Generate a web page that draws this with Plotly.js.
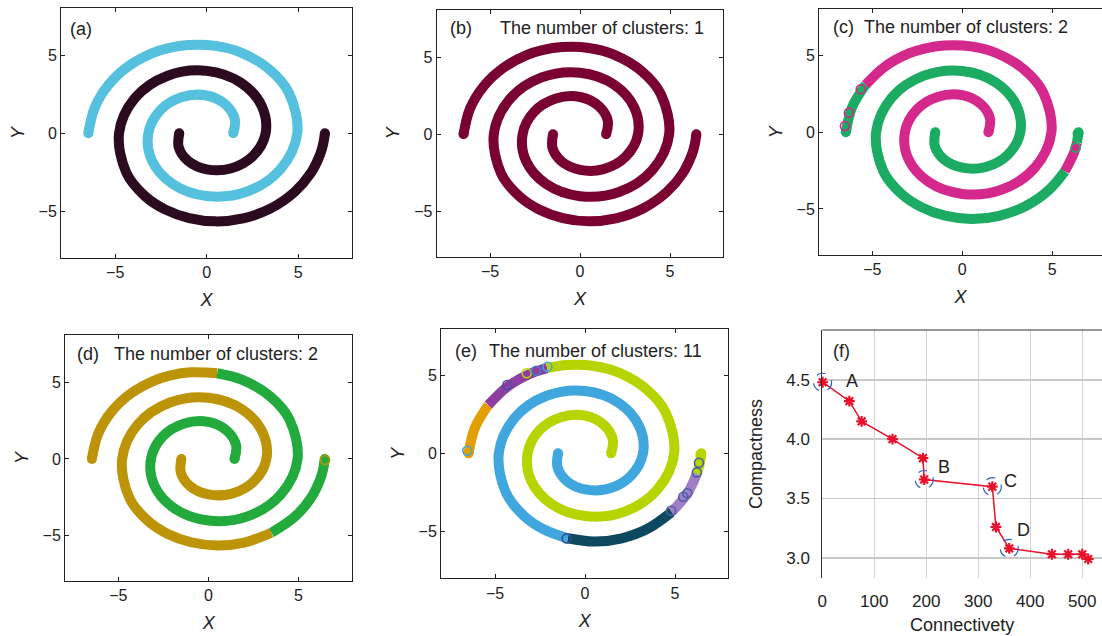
<!DOCTYPE html>
<html><head><meta charset="utf-8">
<script src="https://cdn.plot.ly/plotly-3.0.1.min.js"></script>
<style>html,body{margin:0;padding:0;background:#fff}#chart{width:1102px;height:636px}</style>
</head><body><div id="chart"></div>
<script>
// ---- Two-spiral data set, centre-lines ----
// Arm 1: starts at the far left (x≈-6.5) and winds clockwise to the centre
const arm1X = [-6.47,-6.12,-5.37,-4.29,-2.97,-2.10,-1.00,0.49,1.88,3.43,4.49,4.95,4.02,2.17,0.00,-1.87,-3.00,-3.19,-2.54,-1.34,0.00,1.05,1.54,1.45];
const arm1Y = [0.00,1.64,3.10,4.29,5.14,5.46,5.66,5.60,5.17,4.09,2.60,0.00,-2.32,-3.75,-4.02,-3.24,-1.73,0.00,1.47,2.32,2.42,1.82,0.89,0.00];
// Arm 2: starts at the far right (x≈6.5) and winds clockwise to the centre
const arm2X = [6.46,6.37,6.21,5.70,4.81,3.50,1.99,0.49,-0.96,-2.28,-3.38,-4.39,-4.79,-3.92,-2.13,0.00,1.87,3.01,3.22,2.53,1.31,0.00,-1.02,-1.53,-1.50];
const arm2Y = [0.00,-0.67,-1.32,-2.54,-3.76,-4.82,-5.46,-5.65,-5.44,-4.88,-4.02,-2.53,0.00,2.26,3.69,4.00,3.24,1.74,0.00,-1.46,-2.26,-2.31,-1.77,-0.89,0.00];

// ---- cluster labels per point (label i colours the stretch from point i to i+1) ----
const fill = (n, v) => Array(n).fill(v);
const labA1 = fill(24, 0),                         labA2 = fill(25, 1);
const labB1 = fill(24, 0),                         labB2 = fill(25, 0);
const labC1 = [1,1].concat(fill(22, 0)),           labC2 = [1,0,0].concat(fill(22, 1));
const labD1 = fill(7, 0).concat(fill(17, 1)),      labD2 = fill(5, 1).concat(fill(20, 0));
const labE1 = [0,0,1,1,1].concat(fill(19, 2)),     labE2 = [2,2,3,3,4,4,4,4].concat(fill(17, 5));

const colorsA = ['#56c1de', '#2c0b20'];
const colorsB = ['#7a0232'];
const colorsC = ['#d4288c', '#1bab62'];
const colorsD = ['#bd9408', '#22ab3c'];
const colorsE = ['#e2a000', '#8e3e9f', '#b6d400', '#a07fc4', '#0c4960', '#3fa6de'];

// stray open circles visible in the picture (x, y, colour index)
const ringsC_x = [-6.52,-6.30,-5.64, 6.42, 6.30], ringsC_y = [0.41,1.28,2.81,-0.08,-1.00], ringsC_c = [0,0,0,1,1];
const ringsD_x = [6.48], ringsD_y = [-0.07], ringsD_c = [0];
const ringsE_x = [-6.54,-4.32,-3.24,-2.72,-2.09, 6.42, 6.33, 6.21, 5.68, 5.46, 4.78,-1.02];
const ringsE_y = [0.17, 4.38, 5.13, 5.29, 5.55,-0.08,-0.60,-1.22,-2.56,-2.78,-3.68,-5.45];
const ringsE_c = ['#3fa6de','#4a4fa8','#b6d400','#3f7fcf','#3fa6de','#b6d400','#4a5fa8','#4a5fa8','#4a5fa8','#4a5fa8','#4a5fa8','#2d4f9a'];

// ---- panel (f) ----
const connectivity = [0.6, 52, 75.6, 135, 193.6, 196, 327, 334, 359.6, 441.6, 473, 500, 511.5];
const compactness  = [4.48, 4.32, 4.15, 4.00, 3.84, 3.66, 3.60, 3.26, 3.08, 3.03, 3.03, 3.03, 2.99];
const markedIdx   = [0, 5, 6, 8];
const markedNames = ['A', 'B', 'C', 'D'];
const markedShift = [[29, 1], [20, 13], [18, 6], [14, 18]];

const FONT = 'Liberation Sans, Arial, Helvetica, sans-serif';
const TXT = '#222';
const traces = [];

function runs(lbl) {
  const out = []; let s = 0;
  for (let i = 1; i <= lbl.length; i++) {
    if (i === lbl.length || lbl[i] !== lbl[s]) {
      out.push({ lab: lbl[s], from: s, to: Math.min(i, lbl.length - 1) });
      s = i;
    }
  }
  return out;
}
function addArm(xs, ys, lbl, colors, xa, ya) {
  runs(lbl).forEach(r => {
    if (r.to <= r.from) return;
    const x = xs.slice(r.from, r.to + 1), y = ys.slice(r.from, r.to + 1);
    const sizes = x.map((_, k) => ((r.from + k) === 0 || (r.from + k) === xs.length - 1) ? 10 : 0);
    traces.push({
      type: 'scatter', mode: 'lines+markers', x, y, xaxis: xa, yaxis: ya,
      line: { shape: 'spline', smoothing: 1, width: 10, color: colors[r.lab] },
      marker: { size: sizes, color: colors[r.lab], opacity: 1, line: { width: 0 } },
      hoverinfo: 'skip', showlegend: false
    });
  });
}
function addRings(xs, ys, cols, xa, ya) {
  traces.push({
    type: 'scatter', mode: 'markers', x: xs, y: ys, xaxis: xa, yaxis: ya,
    marker: { symbol: 'circle-open', size: 9, color: cols, opacity: 1, line: { width: 1.6, color: cols } },
    hoverinfo: 'skip', showlegend: false
  });
}

addArm(arm1X, arm1Y, labA1, colorsA, 'x', 'y');   addArm(arm2X, arm2Y, labA2, colorsA, 'x', 'y');
addArm(arm1X, arm1Y, labB1, colorsB, 'x2', 'y2'); addArm(arm2X, arm2Y, labB2, colorsB, 'x2', 'y2');
addArm(arm1X, arm1Y, labC1, colorsC, 'x3', 'y3'); addArm(arm2X, arm2Y, labC2, colorsC, 'x3', 'y3');
addRings(ringsC_x, ringsC_y, ringsC_c.map(i => colorsC[i]), 'x3', 'y3');
addArm(arm1X, arm1Y, labD1, colorsD, 'x4', 'y4'); addArm(arm2X, arm2Y, labD2, colorsD, 'x4', 'y4');
addRings(ringsD_x, ringsD_y, ringsD_c.map(i => colorsD[i]), 'x4', 'y4');
addArm(arm1X, arm1Y, labE1, colorsE, 'x5', 'y5'); addArm(arm2X, arm2Y, labE2, colorsE, 'x5', 'y5');
addRings(ringsE_x, ringsE_y, ringsE_c, 'x5', 'y5');

traces.push({
  type: 'scatter', mode: 'lines+markers', x: connectivity, y: compactness, xaxis: 'x6', yaxis: 'y6',
  cliponaxis: false,
  line: { color: '#e8102a', width: 1.5 },
  marker: { symbol: 'asterisk-open', size: 9, color: '#e8102a', line: { color: '#e8102a', width: 2.2 } },
  hoverinfo: 'skip', showlegend: false
});

const spiralTicks = [-5, 0, 5];
function sx(domain, range, anchor) {
  return {
    domain, range, anchor, showline: true, linecolor: '#222', linewidth: 1, mirror: 'ticks',
    ticks: 'inside', ticklen: 4, tickcolor: '#222', tickvals: spiralTicks,
    tickfont: { family: FONT, size: 16, color: TXT }, zeroline: false, showgrid: false,
    title: { text: '<i>X</i>', font: { family: FONT, size: 18, color: TXT }, standoff: 13 }, fixedrange: true
  };
}
function sy(domain, range, anchor, mirror) {
  return {
    domain, range, anchor, showline: true, linecolor: '#222', linewidth: 1, mirror: mirror,
    ticks: 'inside', ticklen: 4, tickcolor: '#222', tickvals: spiralTicks,
    tickfont: { family: FONT, size: 16, color: TXT }, zeroline: false, showgrid: false,
    title: { text: '<i>Y</i>', font: { family: FONT, size: 18, color: TXT }, standoff: 9 }, fixedrange: true
  };
}

const xDom6 = [0.7462, 1.0], xRng6 = [0, 538];
const yDom6 = [0.0912, 0.4811], yRng6 = [2.83, 4.92];
// map a panel (f) value onto paper coordinates so the dashed rings are not clipped at the axis
const px6 = v => xDom6[0] + (v - xRng6[0]) / (xRng6[1] - xRng6[0]) * (xDom6[1] - xDom6[0]);
const py6 = v => yDom6[0] + (v - yRng6[0]) / (yRng6[1] - yRng6[0]) * (yDom6[1] - yDom6[0]);

const layout = {
  width: 1102, height: 636, margin: { l: 0, r: 0, t: 0, b: 0 },
  paper_bgcolor: '#fff', plot_bgcolor: '#fff', showlegend: false,
  font: { family: FONT, color: TXT },
  xaxis:  sx([0.0554, 0.3194], [-7.96, 7.94], 'y'),
  yaxis:  sy([0.5943, 0.9874], [-8.0, 8.03], 'x', 'ticks'),
  xaxis2: sx([0.3963, 0.6564], [-7.96, 7.96], 'y2'),
  yaxis2: sy([0.5964, 0.9843], [-7.95, 8.07], 'x2', 'ticks'),
  xaxis3: sx([0.7432, 1.0], [-7.96, 7.76], 'y3'),
  yaxis3: sy([0.5991, 0.9854], [-8.0, 8.02], 'x3', false),
  xaxis4: sx([0.0590, 0.3197], [-7.96, 7.99], 'y4'),
  yaxis4: sy([0.0865, 0.4733], [-7.97, 8.1], 'x4', 'ticks'),
  xaxis5: sx([0.4002, 0.6609], [-8.0, 7.96], 'y5'),
  yaxis5: sy([0.0907, 0.4822], [-8.01, 7.95], 'x5', 'ticks'),
  xaxis6: {
    domain: xDom6, range: xRng6, anchor: 'y6', showline: false, zeroline: false,
    showgrid: true, gridcolor: '#d2d2d2', gridwidth: 1, tickvals: [0, 100, 200, 300, 400, 500],
    ticks: 'outside', ticklen: 8, tickcolor: 'rgba(0,0,0,0)',
    tickfont: { family: FONT, size: 17, color: TXT },
    title: { text: 'Connectivety', font: { family: FONT, size: 18, color: TXT }, standoff: 8 }, fixedrange: true
  },
  yaxis6: {
    domain: yDom6, range: yRng6, anchor: 'x6', showline: true, linecolor: '#333',
    linewidth: 1, mirror: false, zeroline: false, showgrid: true, gridcolor: '#c8c8c8', gridwidth: 1.5,
    tickvals: [3.0, 3.5, 4.0, 4.5], tickformat: '.1f',
    ticks: 'outside', ticklen: 8, tickcolor: 'rgba(0,0,0,0)',
    tickfont: { family: FONT, size: 17, color: TXT },
    title: { text: 'Compactness', font: { family: FONT, size: 18, color: TXT }, standoff: 18 }, fixedrange: true
  },
  shapes: [
    { type: 'line', xref: 'x6 domain', yref: 'y6 domain', x0: 0, x1: 1, y0: 1, y1: 1, line: { color: '#333', width: 1 } }
  ].concat(markedIdx.map(i => ({
    type: 'circle', xref: 'paper', yref: 'paper', xsizemode: 'pixel', ysizemode: 'pixel',
    xanchor: px6(connectivity[i]), yanchor: py6(compactness[i]), x0: -9, x1: 9, y0: -9, y1: 9,
    line: { color: '#2f5fc0', width: 1.2, dash: 'dash' }
  }))),
  annotations: []
};

function label(xref, yref, x, y, text) {
  layout.annotations.push({ xref, yref, x, y, xanchor: 'left', yanchor: 'middle', text, showarrow: false,
    font: { family: FONT, size: 18, color: TXT } });
}
label('x domain',  'y domain',  0.024, 0.918, '(a)');
label('x2 domain', 'y2 domain', 0.038, 0.929, '(b)');
label('x2 domain', 'y2 domain', 0.215, 0.929, 'The number of clusters: 1');
label('x3 domain', 'y3 domain', 0.041, 0.926, '(c)');
label('x3 domain', 'y3 domain', 0.151, 0.926, 'The number of clusters: 2');
label('x4 domain', 'y4 domain', 0.035, 0.923, '(d)');
label('x4 domain', 'y4 domain', 0.1625, 0.923, 'The number of clusters: 2');
label('x5 domain', 'y5 domain', 0.041, 0.913, '(e)');
label('x5 domain', 'y5 domain', 0.161, 0.913, 'The number of clusters: 11');
label('x6 domain', 'y6 domain', 0.030, 0.915, '(f)');
markedIdx.forEach((i, k) => {
  layout.annotations.push({ xref: 'x6', yref: 'y6', x: connectivity[i], y: compactness[i],
    xanchor: 'center', yanchor: 'middle', xshift: markedShift[k][0], yshift: markedShift[k][1],
    text: markedNames[k], showarrow: false, font: { family: FONT, size: 18, color: TXT } });
});

Plotly.newPlot('chart', traces, layout, { staticPlot: true, displayModeBar: false });
</script></body></html>
